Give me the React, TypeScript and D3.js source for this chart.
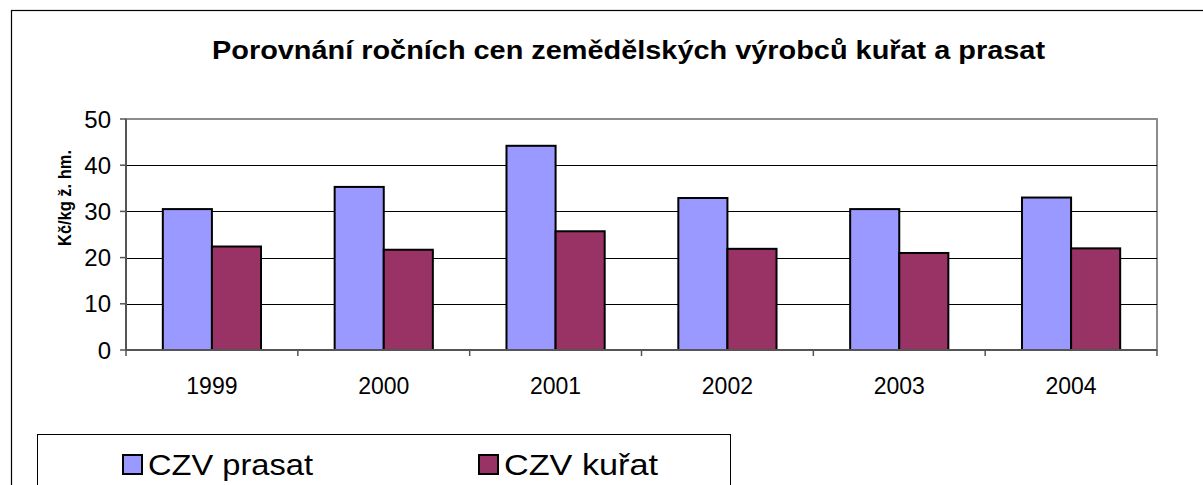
import React from "react";
import * as d3 from "d3";

const years = ["1999", "2000", "2001", "2002", "2003", "2004"];
const prasat = [30.5, 35.3, 44.2, 32.9, 30.5, 33.0];
const kurat = [22.4, 21.7, 25.7, 21.9, 21.0, 22.0];
const seriesNames = ["CZV prasat", "CZV kuřat"];
const seriesColors = ["#9999FF", "#993366"];
const yTicks = [0, 10, 20, 30, 40, 50];

const W = 1203;
const H = 485;
const plot = { left: 126, right: 1157, top: 119, bottom: 350 };
const font = "'Liberation Sans', Arial, sans-serif";

export default function App() {
  const x = d3.scaleBand<string>().domain(years).range([plot.left, plot.right]).padding(0);
  const y = d3.scaleLinear().domain([0, 50]).range([plot.bottom, plot.top]);
  const step = x.bandwidth();
  const barW = step / 3.5;
  const series = [prasat, kurat];

  return (
    <svg width={W} height={H} style={{ position: "absolute", left: 0, top: 0, background: "#fff" }}>
      <rect x={0} y={0} width={W} height={H} fill="#fff" />
      {/* outer chart border */}
      <rect x={11.5} y={10.5} width={1300} height={600} fill="none" stroke="#000" strokeWidth={1.2} />
      {/* title */}
      <text x={628.5} y={59} textAnchor="middle" fontFamily={font} fontWeight="bold" fontSize={25}
        textLength={833} lengthAdjust="spacingAndGlyphs">
        Porovnání ročních cen zemědělských výrobců kuřat a prasat
      </text>
      {/* plot area border */}
      <rect x={plot.left} y={plot.top} width={plot.right - plot.left} height={plot.bottom - plot.top}
        fill="#fff" stroke="#8c8c8c" strokeWidth={2} />
      {/* gridlines */}
      {yTicks.filter(t => t > 0 && t < 50).map(t => (
        <line key={"g" + t} x1={plot.left} x2={plot.right} y1={Math.round(y(t)) + 0.5} y2={Math.round(y(t)) + 0.5}
          stroke="#000" strokeWidth={1} />
      ))}
      {/* bars */}
      {years.map((yr, i) => {
        const gx = (x(yr) as number) + (step - 2 * barW) / 2;
        return series.map((s, j) => (
          <rect key={yr + j} x={gx + j * barW} y={y(s[i])} width={barW} height={plot.bottom - y(s[i])}
            fill={seriesColors[j]} stroke="#000" strokeWidth={2} />
        ));
      })}
      {/* axes */}
      <line x1={plot.left} x2={plot.left} y1={plot.top} y2={plot.bottom} stroke="#555" strokeWidth={2} />
      <line x1={plot.left} x2={plot.right} y1={plot.bottom} y2={plot.bottom} stroke="#555" strokeWidth={2} />
      {yTicks.map(t => (
        <g key={"t" + t}>
          <line x1={plot.left - 6} x2={plot.left} y1={y(t)} y2={y(t)} stroke="#555" strokeWidth={1.5} />
          <text x={111} y={y(t) + 8.5} textAnchor="end" fontFamily={font} fontSize={24}>{t}</text>
        </g>
      ))}
      {years.map((yr, i) => (
        <line key={"xt" + i} x1={(x(yr) as number) + step} x2={(x(yr) as number) + step}
          y1={plot.bottom} y2={plot.bottom + 6} stroke="#555" strokeWidth={1.5} />
      ))}
      <line x1={plot.left} x2={plot.left} y1={plot.bottom} y2={plot.bottom + 6} stroke="#555" strokeWidth={1.5} />
      {years.map(yr => (
        <text key={"xl" + yr} x={(x(yr) as number) + step / 2} y={394} textAnchor="middle" fontFamily={font} fontSize={23}>
          {yr}
        </text>
      ))}
      {/* y axis label */}
      <text transform={`translate(71,198) rotate(-90)`} textAnchor="middle" fontFamily={font} fontWeight="bold" fontSize={18}
        textLength={96} lengthAdjust="spacingAndGlyphs">
        Kč/kg ž. hm.
      </text>
      {/* legend */}
      <rect x={37.5} y={434.5} width={693} height={120} fill="#fff" stroke="#000" strokeWidth={1} />
      {seriesNames.map((n, j) => {
        const lx = j === 0 ? 123 : 479;
        const tl = j === 0 ? 165 : 154;
        return (
          <g key={n}>
            <rect x={lx} y={455} width={19} height={19} fill={seriesColors[j]} stroke="#000" strokeWidth={2} />
            <text x={lx + 25} y={475} fontFamily={font} fontSize={30} textLength={tl} lengthAdjust="spacingAndGlyphs">{n}</text>
          </g>
        );
      })}
    </svg>
  );
}
